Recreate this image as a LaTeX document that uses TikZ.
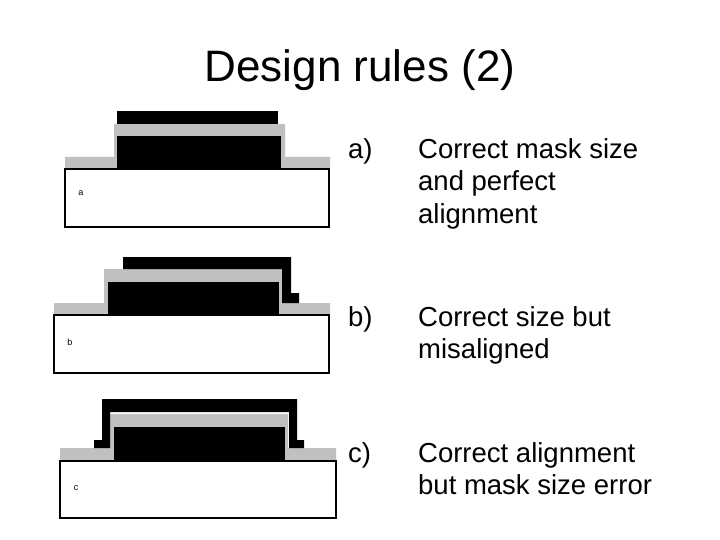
\documentclass[tikz,border=0pt]{standalone}
\usepackage{fontspec}
\setmainfont{Liberation Sans}
\definecolor{lg}{RGB}{192,192,192}
\newcommand{\lead}[1]{\makebox[70pt][l]{#1}}
\newcommand{\ind}{\hspace*{70pt}}
\begin{document}
\begin{tikzpicture}[x=1pt,y=-1pt,
  sub/.style={draw=black,line width=2.5pt,fill=white},
  gr/.style={fill=lg},
  bk/.style={fill=black},
  lbl/.style={font=\fontsize{9}{10}\selectfont,inner sep=0},
  item/.style={font=\fontsize{27.5}{32.5}\selectfont,anchor=base west,align=left,inner sep=0}]
\useasboundingbox (0,0) rectangle (720,540);
\node (title) at (360,70) {\fontsize{44}{48}\selectfont Design rules (2)};
% a
\fill[gr] (65,157)--(114,157)--(114,124)--(285,124)--(285,157)--(330,157)--(330,168)--(65,168)--cycle;
\fill[bk] (117,136) rectangle (281,168);
\fill[bk] (117,111) rectangle (278,124);
\draw[sub] (65,169) rectangle (329,227);
\node[lbl] (la) at (81,193) {a};
% b
\fill[gr] (54,303)--(104,303)--(104,269)--(282,269)--(282,303)--(330,303)--(330,314)--(54,314)--cycle;
\fill[bk] (108,282) rectangle (279,314);
\fill[bk] (123,257)--(291,257)--(291,293)--(299,293)--(299,303)--(282,303)--(282,269)--(123,269)--cycle;
\draw[sub] (54,315) rectangle (329,373);
\node[lbl] (lb) at (70,342) {b};
% c
\fill[gr] (60,448)--(110,448)--(110,414)--(288,414)--(288,448)--(336,448)--(336,460)--(60,460)--cycle;
\fill[bk] (114,427) rectangle (285,460);
\fill[bk] (102,399)--(297,399)--(297,440)--(304,440)--(304,448)--(289,448)--(289,412)--(110,412)--(110,448)--(94,448)--(94,440)--(102,440)--cycle;
\draw[sub] (60,461) rectangle (336,518);
\node[lbl] (lc) at (76,488) {c};
% texts
\node[item] (ta) at (348,223) {\lead{a)}Correct mask size\\\ind and perfect\\\ind alignment};
\node[item] (tb) at (348,358.5) {\lead{b)}Correct size but\\\ind misaligned};
\node[item] (tc) at (348,494.5) {\lead{c)}Correct alignment\\\ind but mask size error};
\end{tikzpicture}
\end{document}
